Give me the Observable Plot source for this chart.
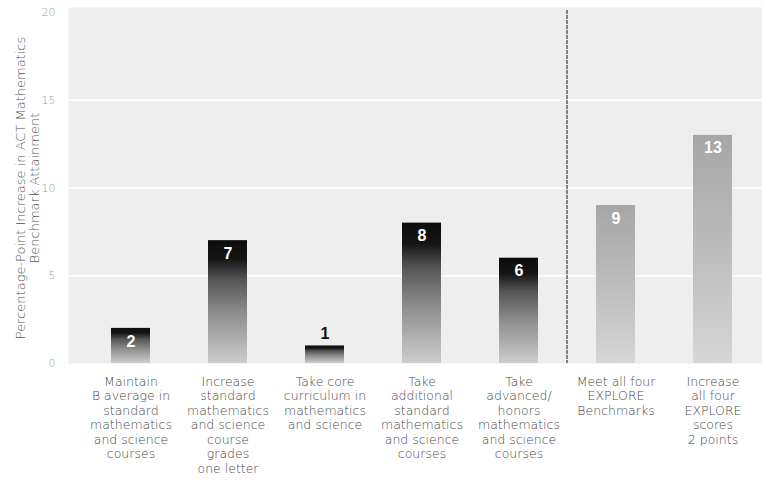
<!DOCTYPE html>
<html>
<head>
<meta charset="utf-8">
<script src="https://cdn.jsdelivr.net/npm/d3@7"></script>
<script src="https://cdn.jsdelivr.net/npm/@observablehq/plot@0.6"></script>
<style>
  html, body { margin: 0; padding: 0; background: #ffffff; }
</style>
</head>
<body>
<div id="chart"></div>
<script>
const categories = [
  "Maintain\nB average in\nstandard\nmathematics\nand science\ncourses",
  "Increase\nstandard\nmathematics\nand science\ncourse\ngrades\none letter",
  "Take core\ncurriculum in\nmathematics\nand science",
  "Take\nadditional\nstandard\nmathematics\nand science\ncourses",
  "Take\nadvanced/\nhonors\nmathematics\nand science\ncourses",
  "Meet all four\nEXPLORE\nBenchmarks",
  "Increase\nall four\nEXPLORE\nscores\n2 points"
];
const values = [2, 7, 1, 8, 6, 9, 13];
const groups = ["course", "course", "course", "course", "course", "explore", "explore"];
const yTicks = [0, 5, 10, 15, 20];
const yLabel = "Percentage-Point Increase in ACT Mathematics\nBenchmark Attainment";

const data = categories.map((c, i) => ({category: c, value: values[i], group: groups[i]}));
const courseData = data.filter(d => d.group === "course");
const exploreData = data.filter(d => d.group === "explore");

function divider(index, scales, values, dimensions) {
  const x = scales.x, y = scales.y;
  const a = x(categories[4]) + x.bandwidth();
  const b = x(categories[5]);
  const xm = (a + b) / 2;
  const line = document.createElementNS("http://www.w3.org/2000/svg", "line");
  line.setAttribute("x1", xm);
  line.setAttribute("x2", xm);
  line.setAttribute("y1", y(20) - 2);
  line.setAttribute("y2", y(0));
  line.setAttribute("stroke", "#2a2a2a");
  line.setAttribute("stroke-width", "1.1");
  line.setAttribute("stroke-dasharray", "4,1");
  return line;
}

const plot = Plot.plot({
  width: 762,
  height: 481,
  marginTop: 12,
  marginLeft: 68,
  marginRight: 0,
  marginBottom: 118,
  style: {fontFamily: "'DejaVu Sans', sans-serif", background: "#ffffff"},
  x: {domain: categories, range: [79, 763], paddingInner: 0.6, paddingOuter: 0.3},
  y: {domain: [0, 20]},
  marks: [
    Plot.frame({fill: "#eeeeee", stroke: null, insetTop: -5}),
    Plot.gridY({ticks: [5, 10, 15], stroke: "#ffffff", strokeOpacity: 1, strokeWidth: 1.6}),
    Plot.axisY({ticks: yTicks, tickSize: 0, tickPadding: 13, label: null, color: "#9a9a9a", fontSize: 11, fontWeight: 300}),
    Plot.axisX({tickSize: 0, tickPadding: 12, label: null, color: "#4a4a4a", fontSize: 12.5, fontWeight: 300, lineHeight: 1.16}),
    Plot.text([yLabel], {frameAnchor: "left", rotate: -90, dx: -41, fontSize: 13, fontWeight: 300, fill: "#555555", lineHeight: 1.12, textAnchor: "middle"}),
    Plot.barY(courseData, {x: "category", y: "value", fill: "url(#gradDark)"}),
    Plot.barY(exploreData, {x: "category", y: "value", fill: "url(#gradLight)"}),
    Plot.text(data.filter(d => d.value >= 1.5), {x: "category", y: "value", text: d => String(d.value), dy: 13, fill: "#ffffff", fontSize: 16, fontWeight: "bold", fontFamily: "'Liberation Sans', Arial, sans-serif"}),
    Plot.text(data.filter(d => d.value < 1.5), {x: "category", y: "value", text: d => String(d.value), dy: -12, fill: "#111111", fontSize: 16, fontWeight: "bold", fontFamily: "'Liberation Sans', Arial, sans-serif"}),
    divider
  ]
});

const defs = d3.select(plot).insert("defs", ":first-child");
const gd = defs.append("linearGradient").attr("id", "gradDark").attr("x1", 0).attr("y1", 0).attr("x2", 0).attr("y2", 1);
[[0, "#0c0c0c"], [0.15, "#151515"], [0.32, "#555555"], [0.6, "#8e8e8e"], [1, "#cdcdcd"]].forEach(([o, c]) => gd.append("stop").attr("offset", o).attr("stop-color", c));
const gl = defs.append("linearGradient").attr("id", "gradLight").attr("x1", 0).attr("y1", 0).attr("x2", 0).attr("y2", 1);
[[0, "#a6a6a6"], [0.5, "#bcbcbc"], [1, "#d6d6d6"]].forEach(([o, c]) => gl.append("stop").attr("offset", o).attr("stop-color", c));

document.getElementById("chart").appendChild(plot);
</script>
</body>
</html>
